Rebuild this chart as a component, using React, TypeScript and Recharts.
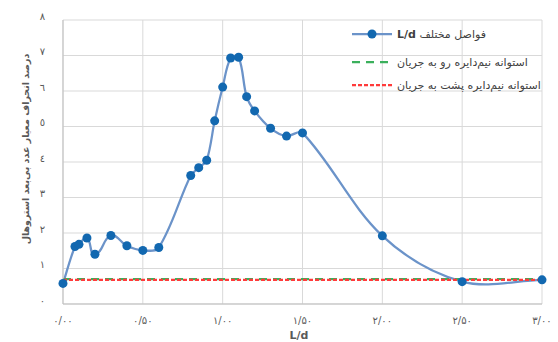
import { LineChart, Line, XAxis, YAxis, CartesianGrid, Legend } from 'recharts';

// L/d spacing values and the Strouhal deviation measured at each
const spacingLd = [0, 0.075, 0.1, 0.15, 0.2, 0.3, 0.4, 0.5, 0.6, 0.8, 0.85, 0.9, 0.95, 1.0, 1.05, 1.1, 1.15, 1.2, 1.3, 1.4, 1.5, 2.0, 2.5, 3.0];
const strouhalDev = [0.58, 1.62, 1.68, 1.86, 1.4, 1.93, 1.64, 1.51, 1.59, 3.62, 3.84, 4.05, 5.16, 6.11, 6.93, 6.95, 5.84, 5.44, 4.95, 4.73, 4.82, 1.92, 0.63, 0.68];

// single-cylinder reference levels (flat across the whole range)
const refRange = [0, 3];
const frontCylinder = 0.7;
const rearCylinder = 0.68;

const xTicks = [0, 0.5, 1, 1.5, 2, 2.5, 3];
const yTicks = [0, 1, 2, 3, 4, 5, 6, 7, 8];

const seriesNames = ['فواصل مختلف', 'استوانه نیم‌دایره رو به جریان', 'استوانه نیم‌دایره پشت به جریان'];
const yTitle = 'درصد انحراف معیار عدد بی‌بعد استروهال';
const xTitle = 'L/d';

const BLUE_LINE = '#6b93c9';
const BLUE_DOT = '#1268b0';
const GREEN = '#3bb05c';
const RED = '#ff3b3b';
const TEXT = '#595959';
const FONT = '"DejaVu Sans", sans-serif';

const persian = (s: string) => s.replace(/[0-9]/g, d => '۰۱۲۳۴۵۶۷۸۹'[+d]);
const arabic = (s: string) => s.replace(/[0-9]/g, d => '٠١٢٣٤٥٦٧٨٩'[+d]);

const mainData = spacingLd.map((x, i) => ({ x, y: strouhalDev[i] }));
const frontData = refRange.map(x => ({ x, y: frontCylinder }));
const rearData = refRange.map(x => ({ x, y: rearCylinder }));

// smooth line: bezier segments with tangents along neighbour chords,
// control arms scaled to each segment's own length (no loops on uneven spacing)
const smoothCurve = (context: any) => {
    let pts: number[][] = [];
    const K = 0.33;
    const dir = (a: number[], b: number[]) => {
        const dx = b[0] - a[0], dy = b[1] - a[1];
        const len = Math.hypot(dx, dy) || 1;
        return [dx / len, dy / len];
    };
    return {
        areaStart() {},
        areaEnd() {},
        lineStart() { pts = []; },
        point(x: number, y: number) { pts.push([+x, +y]); },
        lineEnd() {
            if (!pts.length) return;
            const n = pts.length;
            const tan = pts.map((_, i) => dir(pts[Math.max(i - 1, 0)], pts[Math.min(i + 1, n - 1)]));
            context.moveTo(pts[0][0], pts[0][1]);
            for (let i = 0; i < n - 1; i++) {
                const a = pts[i], b = pts[i + 1];
                const d = Math.hypot(b[0] - a[0], b[1] - a[1]) * K;
                context.bezierCurveTo(
                    a[0] + tan[i][0] * d, a[1] + tan[i][1] * d,
                    b[0] - tan[i + 1][0] * d, b[1] - tan[i + 1][1] * d,
                    b[0], b[1]
                );
            }
        },
    };
};

function LegendBox() {
    const row = (h: number, symbol: any, label: any) => (
        <div style={{ display: 'flex', alignItems: 'center', height: h }}>
            <svg width={42} height={10} style={{ flex: 'none' }}>{symbol}</svg>
            <span dir="rtl" style={{ marginLeft: 3, whiteSpace: 'nowrap' }}>{label}</span>
        </div>
    );
    return (
        <div style={{ fontFamily: FONT, fontSize: 11, color: '#404040' }}>
            {row(26, <>
                <line x1={0} y1={5} x2={40} y2={5} stroke={BLUE_LINE} strokeWidth={2.25} />
                <circle cx={20} cy={5} r={4.5} fill={BLUE_DOT} />
            </>, <>{seriesNames[0]} <b>L/d</b></>)}
            {row(30, <line x1={0} y1={5} x2={42} y2={5} stroke={GREEN} strokeWidth={2.25} strokeDasharray="8 6" />, seriesNames[1])}
            {row(16, <line x1={0} y1={5} x2={42} y2={5} stroke={RED} strokeWidth={2.25} strokeDasharray="4 2" />, seriesNames[2])}
        </div>
    );
}

export default function App() {
    return (
        <div style={{ position: 'absolute', left: 0, top: 0, background: '#fff' }}>
            <LineChart width={558} height={342} data={mainData} margin={{ top: 20, right: 16, left: 0, bottom: 0 }}>
                <CartesianGrid stroke="#d9d9d9" strokeWidth={1} />
                <XAxis
                    dataKey="x"
                    type="number"
                    domain={[0, 3]}
                    ticks={xTicks}
                    height={38}
                    stroke="#bfbfbf"
                    tickLine={false}
                    tickSize={0}
                    tickMargin={13}
                    tick={{ fill: TEXT, fontSize: 10, fontFamily: FONT }}
                    tickFormatter={(v: number) => persian(v.toFixed(2).replace('.', '/'))}
                    label={() => (
                        <text x={299} y={339} textAnchor="middle" fill={TEXT} fontSize={11} fontWeight="bold" fontFamily={FONT}>{xTitle}</text>
                    )}
                />
                <YAxis
                    type="number"
                    domain={[0, 8]}
                    ticks={yTicks}
                    width={63}
                    stroke="#bfbfbf"
                    tickLine={false}
                    tickSize={0}
                    tickMargin={18}
                    tick={{ fill: TEXT, fontSize: 10, fontFamily: FONT, dy: -4 }}
                    tickFormatter={(v: number) => arabic(String(v))}
                    label={() => (
                        <text x={25} y={149} transform="rotate(-90 25 149)" textAnchor="middle" dominantBaseline="central" fill={TEXT} fontSize={9.5} fontWeight="bold" fontFamily={FONT}>{yTitle}</text>
                    )}
                />
                <Legend
                    layout="vertical"
                    align="center"
                    verticalAlign="middle"
                    wrapperStyle={{ left: 352, top: 21, width: 206 }}
                    content={() => <LegendBox />}
                />
                <Line
                    dataKey="y"
                    name={seriesNames[0]}
                    type={smoothCurve as any}
                    stroke={BLUE_LINE}
                    strokeWidth={2.25}
                    dot={{ r: 4.5, fill: BLUE_DOT, stroke: BLUE_DOT, strokeWidth: 0 }}
                    activeDot={false}
                    isAnimationActive={false}
                />
                <Line
                    data={frontData}
                    dataKey="y"
                    name={seriesNames[1]}
                    stroke={GREEN}
                    strokeWidth={2.25}
                    strokeDasharray="8 6"
                    dot={false}
                    activeDot={false}
                    isAnimationActive={false}
                />
                <Line
                    data={rearData}
                    dataKey="y"
                    name={seriesNames[2]}
                    stroke={RED}
                    strokeWidth={2.25}
                    strokeDasharray="4 2"
                    dot={false}
                    activeDot={false}
                    isAnimationActive={false}
                />
            </LineChart>
        </div>
    );
}
